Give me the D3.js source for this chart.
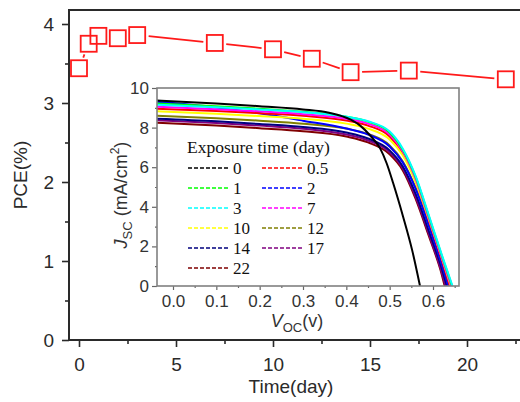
<!DOCTYPE html>
<html>
<head>
<meta charset="utf-8">
<script src="https://cdn.jsdelivr.net/npm/d3@7"></script>
<style>
  body { margin: 0; background: #fff; }
  svg { display: block; }
  .sans { font-family: "Liberation Sans", Arial, sans-serif; }
  .serif { font-family: "Liberation Serif", "Times New Roman", serif; }
</style>
</head>
<body>
<div id="chart"></div>
<script>
// main chart data: PCE vs exposure time
const days = [0, 0.5, 1, 2, 3, 7, 10, 12, 14, 17, 22];
const pce = [3.44, 3.75, 3.85, 3.82, 3.86, 3.76, 3.68, 3.56, 3.39, 3.41, 3.30];

// inset: J-V curves, one per exposure time
const curveLabels = ["0", "0.5", "1", "2", "3", "7", "10", "12", "14", "17", "22"];
const curveColors = ["#000000", "#ff0000", "#00ff00", "#0000ff", "#00ffff", "#ff00ff",
                     "#ffff00", "#808000", "#000080", "#800080", "#800000"];
const jv0 = [[-0.037,9.37],[0.1,9.22],[0.2,9.08],[0.3,8.92],[0.36,8.75],[0.41,8.4],[0.432,8.1],[0.455,7.6],[0.478,6.95],[0.493,6.2],[0.508,5.2],[0.531,3.5],[0.552,1.8],[0.57,0]];
const jv05 = [[-0.037,8.95],[0.1,8.84],[0.2,8.73],[0.3,8.6],[0.4,8.36],[0.45,8.1],[0.5,7.55],[0.53,6.7],[0.56,5.3],[0.59,3.35],[0.62,1.35],[0.639,0]];
const jv1 = [[-0.037,9.22],[0.1,9.08],[0.2,8.95],[0.3,8.8],[0.4,8.55],[0.45,8.3],[0.5,7.75],[0.53,6.9],[0.56,5.5],[0.59,3.55],[0.62,1.55],[0.644,0]];
const jv2 = [[-0.037,9.3],[0.1,9.02],[0.2,8.72],[0.3,8.35],[0.4,7.95],[0.45,7.65],[0.5,7.05],[0.53,6.25],[0.56,4.9],[0.59,3.05],[0.62,1.1],[0.635,0]];
const jv3 = [[-0.037,9.15],[0.1,9.03],[0.2,8.92],[0.3,8.78],[0.4,8.55],[0.45,8.32],[0.5,7.8],[0.53,6.95],[0.56,5.55],[0.59,3.6],[0.62,1.6],[0.645,0]];
const jv7 = [[-0.037,9.05],[0.1,8.93],[0.2,8.82],[0.3,8.68],[0.4,8.45],[0.45,8.2],[0.5,7.65],[0.53,6.8],[0.56,5.4],[0.59,3.45],[0.62,1.45],[0.642,0]];
const jv10 = [[-0.037,8.82],[0.1,8.7],[0.2,8.58],[0.3,8.45],[0.4,8.2],[0.45,7.95],[0.5,7.4],[0.53,6.6],[0.56,5.25],[0.59,3.4],[0.62,1.45],[0.641,0]];
const jv12 = [[-0.037,8.6],[0.1,8.47],[0.2,8.35],[0.3,8.2],[0.4,7.95],[0.45,7.68],[0.5,7.1],[0.53,6.3],[0.56,4.95],[0.59,3.1],[0.62,1.15],[0.636,0]];
const jv14 = [[-0.037,8.45],[0.1,8.32],[0.2,8.18],[0.3,8.03],[0.4,7.75],[0.45,7.45],[0.5,6.85],[0.53,6.05],[0.56,4.65],[0.59,2.8],[0.62,0.9],[0.632,0]];
const jv17 = [[-0.037,8.37],[0.1,8.23],[0.2,8.1],[0.3,7.94],[0.4,7.65],[0.45,7.35],[0.5,6.75],[0.53,5.95],[0.56,4.5],[0.59,2.65],[0.62,0.7],[0.629,0]];
const jv22 = [[-0.037,8.25],[0.1,8.1],[0.2,7.97],[0.3,7.82],[0.4,7.55],[0.45,7.25],[0.5,6.65],[0.53,5.85],[0.56,4.4],[0.59,2.55],[0.62,0.6],[0.627,0]];
const jvCurves = [jv0, jv05, jv1, jv2, jv3, jv7, jv10, jv12, jv14, jv17, jv22];

const mainYTicks = [0, 1, 2, 3, 4];
const mainYMinor = [0.5, 1.5, 2.5, 3.5];
const mainXTicks = [0, 5, 10, 15, 20];
const mainXMinor = [2.5, 7.5, 12.5, 17.5, 22.5];
const insetXTicks = [0, 0.1, 0.2, 0.3, 0.4, 0.5, 0.6];
const insetXMinor = [0.05, 0.15, 0.25, 0.35, 0.45, 0.55, 0.65];
const insetYTicks = [0, 2, 4, 6, 8, 10];
const insetYMinor = [1, 3, 5, 7, 9];

const W = 520, H = 402;
const svg = d3.select('#chart').append('svg')
  .attr('width', W).attr('height', H);
svg.append('rect').attr('width', W).attr('height', H).attr('fill', '#fff');

// ---- main chart ----
const pLeft = 69, pBottom = 340, pTop = 10, pRight = 530;
const x = d3.scaleLinear().domain([0, 20]).range([79, 467]);
const y = d3.scaleLinear().domain([0, 4]).range([340, 24]);

const axisCol = '#2a2a2a';

// minor ticks
svg.append('g').attr('transform', `translate(${pLeft},0)`)
  .call(d3.axisLeft(y).tickValues(mainYMinor).tickSize(4).tickFormat(''))
  .call(g => g.select('.domain').remove());
svg.append('g').attr('transform', `translate(0,${pBottom})`)
  .call(d3.axisBottom(x).tickValues(mainXMinor).tickSize(4).tickFormat(''))
  .call(g => g.select('.domain').remove());

const yAx = svg.append('g').attr('class', 'sans').attr('transform', `translate(${pLeft},0)`)
  .call(d3.axisLeft(y).tickValues(mainYTicks).tickSize(7).tickPadding(8).tickFormat(d3.format('d')));
yAx.select('.domain').remove();
yAx.selectAll('text').attr('font-size', 19).attr('fill', axisCol);

const xAx = svg.append('g').attr('class', 'sans').attr('transform', `translate(0,${pBottom})`)
  .call(d3.axisBottom(x).tickValues(mainXTicks).tickSize(7).tickPadding(11).tickFormat(d3.format('d')));
xAx.select('.domain').remove();
xAx.selectAll('text').attr('font-size', 19).attr('fill', axisCol);

svg.selectAll('.tick line').attr('stroke', axisCol).attr('stroke-width', 1.6);

// frame (left, bottom, top)
svg.append('path')
  .attr('d', `M${pRight},${pTop}H${pLeft}V${pBottom}H${pRight}`)
  .attr('fill', 'none').attr('stroke', axisCol).attr('stroke-width', 2);

svg.append('text').attr('class', 'sans')
  .attr('transform', 'translate(27,175) rotate(-90)')
  .attr('text-anchor', 'middle').attr('font-size', 19).attr('fill', axisCol)
  .text('PCE(%)');
svg.append('text').attr('class', 'sans')
  .attr('x', 291).attr('y', 393)
  .attr('text-anchor', 'middle').attr('font-size', 19).attr('fill', axisCol)
  .text('Time(day)');

// red line with gaps around markers
const pts = days.map((d, i) => [x(d), y(pce[i])]);
const gap = 11.5;
for (let i = 0; i < pts.length - 1; i++) {
  const [x1, y1] = pts[i], [x2, y2] = pts[i + 1];
  const len = Math.hypot(x2 - x1, y2 - y1);
  if (len <= 2 * gap) continue;
  const ux = (x2 - x1) / len, uy = (y2 - y1) / len;
  svg.append('line')
    .attr('x1', x1 + ux * gap).attr('y1', y1 + uy * gap)
    .attr('x2', x2 - ux * gap).attr('y2', y2 - uy * gap)
    .attr('stroke', '#ff1a1a').attr('stroke-width', 1.8);
}
svg.selectAll('.mk').data(days).enter().append('rect')
  .attr('class', 'mk')
  .attr('x', (d) => x(d) - 8)
  .attr('y', (d, i) => y(pce[i]) - 8)
  .attr('width', 16).attr('height', 16)
  .attr('fill', 'none').attr('stroke', '#ff1a1a').attr('stroke-width', 1.8);

// ---- inset ----
const iL = 157, iR = 459, iT = 88, iB = 286;
const ix = d3.scaleLinear().domain([0, 0.6]).range([173, 433]);
const iy = d3.scaleLinear().domain([0, 10]).range([286, 88]);
const inset = svg.append('g');
inset.append('rect').attr('x', iL).attr('y', iT).attr('width', iR - iL).attr('height', iB - iT)
  .attr('fill', '#fff');

inset.append('clipPath').attr('id', 'iclip')
  .append('rect').attr('x', iL).attr('y', iT).attr('width', iR - iL).attr('height', iB - iT);

const line = d3.line().x(d => ix(d[0])).y(d => iy(d[1])).curve(d3.curveMonotoneX);
// draw day 0 last so it sits on top
const order = [10, 9, 8, 7, 3, 1, 6, 5, 2, 4, 0];
inset.append('g').attr('clip-path', 'url(#iclip)')
  .selectAll('path').data(order).enter().append('path')
  .attr('d', i => line(jvCurves[i]))
  .attr('fill', 'none')
  .attr('stroke', i => curveColors[i])
  .attr('stroke-width', 2);

const insetCol = '#333';
inset.append('g').attr('transform', `translate(0,${iB})`)
  .call(d3.axisBottom(ix).tickValues(insetXMinor).tickSize(2).tickFormat(''))
  .call(g => g.select('.domain').remove());
inset.append('g').attr('transform', `translate(${iL},0)`)
  .call(d3.axisLeft(iy).tickValues(insetYMinor).tickSize(2).tickFormat(''))
  .call(g => g.select('.domain').remove());
const ixAx = inset.append('g').attr('class', 'sans').attr('transform', `translate(0,${iB})`)
  .call(d3.axisBottom(ix).tickValues(insetXTicks).tickSize(4).tickPadding(5).tickFormat(d3.format('.1f')));
ixAx.select('.domain').remove();
ixAx.selectAll('text').attr('font-size', 17).attr('fill', insetCol);
const iyAx = inset.append('g').attr('class', 'sans').attr('transform', `translate(${iL},0)`)
  .call(d3.axisLeft(iy).tickValues(insetYTicks).tickSize(5).tickPadding(3).tickFormat(d3.format('d')));
iyAx.select('.domain').remove();
iyAx.selectAll('text').attr('font-size', 17).attr('fill', insetCol);
inset.selectAll('.tick line').attr('stroke', '#666').attr('stroke-width', 1.2);

inset.append('rect').attr('x', iL).attr('y', iT).attr('width', iR - iL).attr('height', iB - iT)
  .attr('fill', 'none').attr('stroke', '#808080').attr('stroke-width', 1.6);

// inset axis titles
const jl = inset.append('text').attr('class', 'sans')
  .attr('transform', 'translate(127,195) rotate(-90)')
  .attr('text-anchor', 'middle').attr('font-size', 18).attr('fill', insetCol);
jl.append('tspan').attr('font-style', 'italic').text('J');
jl.append('tspan').attr('font-size', 13).attr('dy', 5).text('SC');
jl.append('tspan').attr('dy', -5).text(' (mA/cm');
jl.append('tspan').attr('font-size', 12).attr('dy', -8).text('2');
jl.append('tspan').attr('dy', 8).text(')');

const vl = inset.append('text').attr('class', 'sans')
  .attr('x', 297).attr('y', 327)
  .attr('text-anchor', 'middle').attr('font-size', 18).attr('fill', insetCol);
vl.append('tspan').attr('font-style', 'italic').text('V');
vl.append('tspan').attr('font-size', 13).attr('dy', 5).text('OC');
vl.append('tspan').attr('dy', -5).text('(v)');

// legend
const leg = inset.append('g').attr('class', 'serif');
leg.append('text').attr('x', 187).attr('y', 153)
  .attr('font-size', 17.5).attr('fill', '#111')
  .text('Exposure time (day)');
const items = leg.selectAll('.li').data(curveLabels).enter().append('g')
  .attr('class', 'li')
  .attr('transform', (d, i) => `translate(${i % 2 === 0 ? 188 : 262},${168 + Math.floor(i / 2) * 20})`);
items.append('line')
  .attr('x1', 0).attr('x2', 41).attr('y1', 0).attr('y2', 0)
  .attr('stroke', (d, i) => curveColors[i]).attr('stroke-width', 1.6)
  .attr('stroke-dasharray', '4,2');
items.append('text')
  .attr('x', 45).attr('y', 5.5)
  .attr('font-size', 17).attr('fill', '#111')
  .text(d => d);
</script>
</body>
</html>
